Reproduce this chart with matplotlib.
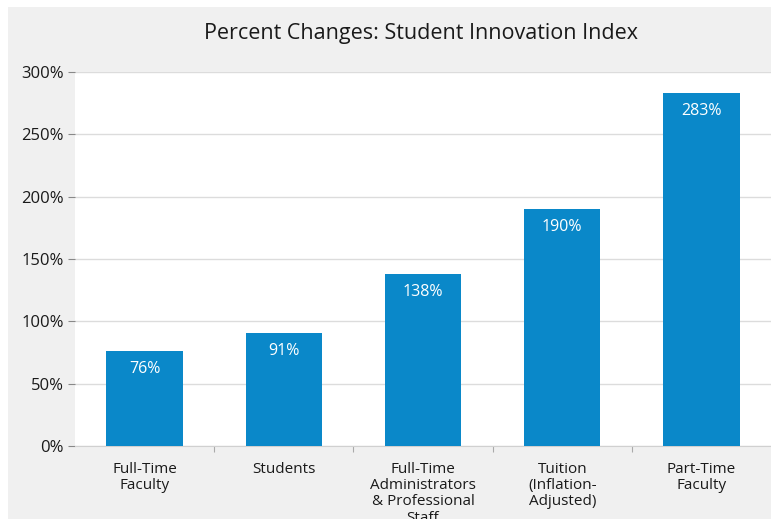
import matplotlib.pyplot as plt
from matplotlib.patches import Rectangle

categories = ['Full-Time\nFaculty', 'Students',
              'Full-Time\nAdministrators\n& Professional\nStaff',
              'Tuition\n(Inflation-\nAdjusted)', 'Part-Time\nFaculty']
values = [76, 91, 138, 190, 283]
yticks = [0, 50, 100, 150, 200, 250, 300]

plt.rcParams['font.family'] = ['Open Sans', 'DejaVu Sans']

fig = plt.figure(figsize=(7.71, 5.19), dpi=100, facecolor='white')
# gray panel behind the chart
fig.patches.append(Rectangle((8 / 771, 0), 1, 1 - 7 / 519, transform=fig.transFigure,
                             facecolor='#f0f0f0', edgecolor='none', zorder=-1))

ax = fig.add_axes([75 / 771, 73 / 519, 1 - 75 / 771, (446 - 72) / 519])
ax.set_facecolor('white')

x = range(len(values))
ax.bar(x, values, width=0.55, color='#0a88c9', zorder=3)
for i, v in zip(x, values):
    ax.text(i, v - 8, f'{v}%', ha='center', va='top', color='white',
            fontsize=11.5, zorder=4)

ax.set_xlim(-0.5, len(values) - 0.5)
ax.set_ylim(0, 300)
ax.set_yticks(yticks)
ax.set_yticklabels([f'{t}%' for t in yticks], fontsize=12, color='#1a1a1a')
ax.yaxis.grid(True, color='#dcdcdc', linewidth=1, zorder=0)
ax.tick_params(axis='y', length=5, color='#888888', pad=3)

ax.set_xticks([i + 0.5 for i in range(len(values) - 1)])
ax.set_xticklabels([])
ax.tick_params(axis='x', length=4, color='#aaaaaa', direction='out')
for i, c in enumerate(categories):
    ax.text(i, -13, c, ha='center', va='top', fontsize=11, color='#1a1a1a',
            linespacing=1.1)

for s in ['top', 'right', 'left']:
    ax.spines[s].set_visible(False)
ax.spines['bottom'].set_color('#d0d0d0')

fig.text(421 / 771, 1 - 33 / 519, 'Percent Changes: Student Innovation Index',
         ha='center', va='center', fontsize=15.5, color='#1a1a1a')

fig.savefig('out.png', dpi=100, facecolor=fig.get_facecolor())
